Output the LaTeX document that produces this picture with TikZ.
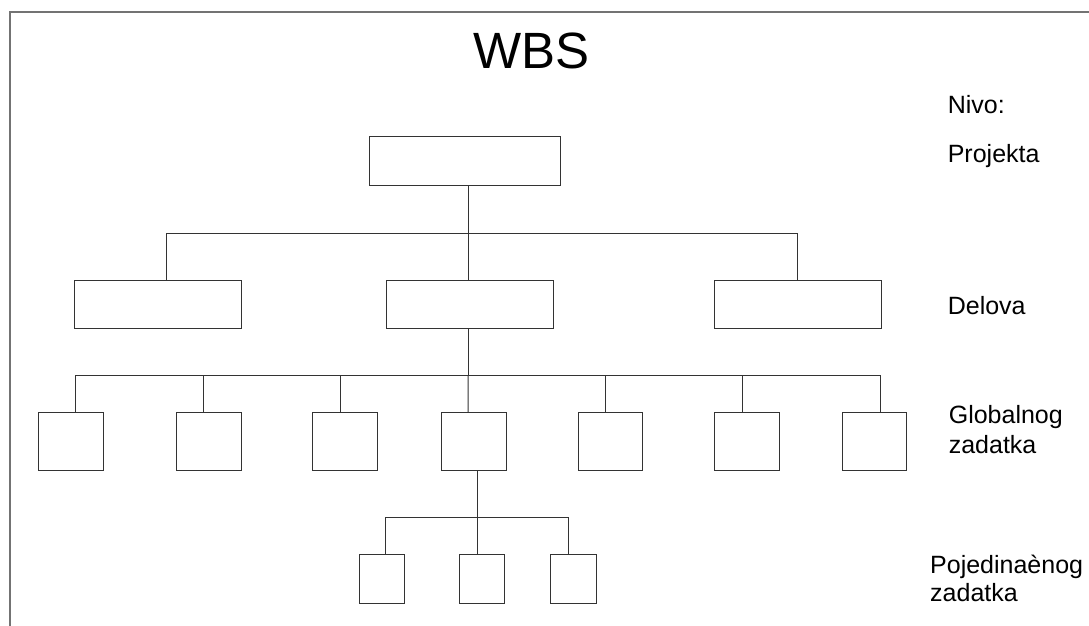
\documentclass[tikz,border=0pt]{standalone}
\usepackage{fontspec}
\setmainfont{Liberation Sans}
\begin{document}
\begin{tikzpicture}[x=1pt,y=-1pt,
  box/.style={draw=black!80,line width=1pt,inner sep=0pt,rectangle},
  wide/.style={box,minimum width=167.1pt,minimum height=48.3pt},
  sqbox/.style={box,minimum width=64.5pt,minimum height=57.3pt},
  smbox/.style={box,minimum width=45.5pt,minimum height=48.6pt},
  conn/.style={draw=black!80,line width=1pt},
  lbl/.style={inner sep=0pt,anchor=base west,font=\fontsize{25}{30}\selectfont},
  frame/.style={draw=black!55,line width=2pt}]
\useasboundingbox (0,0) rectangle (1089,626);
% frame
\coordinate (f1) at (9.6,632);
\coordinate (f2) at (9.6,12);
\coordinate (f3) at (1095,12);
\draw[frame] (f1) -- (f2) -- (f3);
% title
\node[inner sep=0pt,anchor=base,font=\fontsize{51}{60}\selectfont] (title) at (531.4,68.3) {WBS};
% level labels
\node[lbl] (nivo) at (947.6,113) {Nivo:};
\node[lbl] (lp) at (947.6,162.7) {Projekta};
\node[lbl] (ld) at (947.6,314.3) {Delova};
\node[lbl] (lg1) at (948.6,423.3) {Globalnog};
\node[lbl] (lg2) at (948.6,453.3) {zadatka};
\node[lbl] (lz1) at (930,573.3) {Pojedinaènog};
\node[lbl] (lz2) at (930,601.7) {zadatka};
% boxes
\node[box,minimum width=191.1pt,minimum height=48.3pt] (t) at (464.85,160.85) {};
\node[wide] (dA) at (157.85,304.15) {};
\node[wide] (dB) at (470.35,304.15) {};
\node[wide] (dC) at (797.95,304.15) {};
\node[sqbox] (g1) at (70.9,441.35) {};
\node[sqbox] (g2) at (208.9,441.35) {};
\node[sqbox] (g3) at (345.2,441.35) {};
\node[sqbox] (g4) at (473.9,441.35) {};
\node[sqbox] (g5) at (610.25,441.35) {};
\node[sqbox] (g6) at (747.2,441.35) {};
\node[sqbox] (g7) at (874.35,441.35) {};
\node[smbox] (p1) at (381.95,579) {};
\node[smbox] (p2) at (482.15,579) {};
\node[smbox] (p3) at (573.6,579) {};
% connectors level 1 -> 2
\path ([xshift=3.35pt]t.south) ++(0,48.3) coordinate (b1);
\draw[conn] ([xshift=3.35pt]t.south) -- (b1);
\draw[conn] (b1) -| ([xshift=8.95pt]dA.north);
\draw[conn] (b1) -| ([xshift=-0.35pt]dC.north);
\draw[conn] (b1) -- ([xshift=-2.15pt]dB.north);
% level 2 -> 3
\path ([xshift=-2.15pt]dB.south) ++(0,47) coordinate (b2);
\draw[conn] ([xshift=-2.15pt]dB.south) -- (b2);
\draw[conn] (b2) -| ([xshift=4.1pt]g1.north);
\draw[conn] (b2) -| ([xshift=-5.3pt]g2.north);
\draw[conn] (b2) -| ([xshift=-4.8pt]g3.north);
\draw[conn] (b2) -- ([xshift=-5.7pt]g4.north);
\draw[conn] (b2) -| ([xshift=-4.45pt]g5.north);
\draw[conn] (b2) -| ([xshift=-4.6pt]g6.north);
\draw[conn] (b2) -| ([xshift=5.75pt]g7.north);
% level 3 -> 4
\path ([xshift=4pt]g4.south) ++(0,47.3) coordinate (b3);
\draw[conn] ([xshift=4pt]g4.south) -- (b3);
\draw[conn] (b3) -| ([xshift=3.75pt]p1.north);
\draw[conn] (b3) -- ([xshift=-4.25pt]p2.north);
\draw[conn] (b3) -| ([xshift=-5pt]p3.north);
\end{tikzpicture}
\end{document}
